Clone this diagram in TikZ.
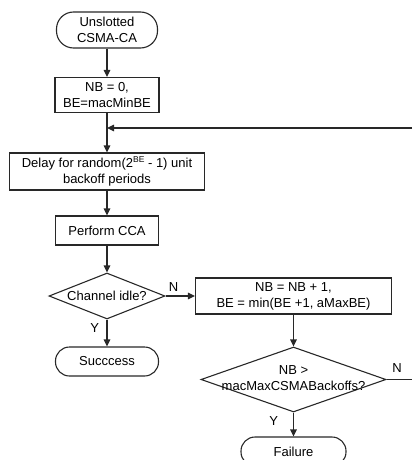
\documentclass[tikz,border=0pt]{standalone}
\usepackage{fontspec}
\setmainfont{Liberation Sans}
\usetikzlibrary{shapes.geometric,arrows.meta}
\definecolor{lc}{RGB}{40,40,40}
\begin{document}
\begin{tikzpicture}[x=1pt,y=-1pt,
  every node/.style={font=\fontsize{13}{16}\selectfont, text=black},
  ln/.style={draw=lc, line width=1.1pt},
  proc/.style={ln, rectangle, inner sep=0pt, align=center},
  term/.style={ln, rectangle, rounded corners=14pt, inner sep=0pt, align=center},
  dec/.style={ln, diamond, inner sep=0pt},
  arr/.style={ln, -{Triangle[length=7pt,width=6.5pt]}},
  lbl/.style={inner sep=0pt},
]
\useasboundingbox (0,0) rectangle (412,460);
\clip (0,0) rectangle (412,460);

\node[term, rounded corners=17pt, minimum width=101pt, minimum height=36pt] (start) at (107,30) {Unslotted\\CSMA-CA};
\node[proc, minimum width=104pt, minimum height=35pt] (init) at (107,95) {NB = 0,\\BE=macMinBE};
\node[proc, minimum width=195pt, minimum height=37pt] (delay) at (107,171.5) {Delay for random(2\raisebox{0.42em}{\fontsize{8.5}{8.5}\selectfont BE} - 1) unit\\backoff periods};
\node[proc, minimum width=103pt, minimum height=29pt] (cca) at (107,230.5) {Perform CCA};
\node[dec, minimum width=116pt, minimum height=46pt] (idle) at (107,296) {\makebox[0pt]{Channel idle?}};
\node[proc, minimum width=196pt, minimum height=36pt] (inc) at (293.5,296) {NB = NB + 1,\\BE = min(BE +1, aMaxBE)};
\node[term, minimum width=103pt, minimum height=29pt] (succ) at (107,361.5) {Succcess};
\node[dec, minimum width=185pt, minimum height=65pt] (max) at (293.5,379.5) {\raisebox{5pt}{\makebox[0pt]{\begin{tabular}{@{}c@{}}NB >\\macMaxCSMABackoffs?\end{tabular}}}};
\node[term, minimum width=105pt, minimum height=29pt] (fail) at (293.5,451.5) {Failure};

\coordinate (join) at (107,128);
\coordinate (loopin) at (412,128);
\coordinate (nout) at (412,379.5);

\draw[arr] (start) -- (init);
\draw[arr] (init) -- (delay);
\draw[arr] (loopin) -- (join);
\draw[arr] (delay) -- (cca);
\draw[arr] (cca) -- (idle);
\draw[arr] (idle) -- node[lbl, pos=0.27, above=4pt] {N} (inc);
\draw[arr] (idle) -- node[lbl, pos=0.3, left=7.5pt] {Y} (succ);
\draw[arr] (inc) -- (max);
\draw[ln] (max) -- node[lbl, pos=0.41, above=6pt] {N} (nout);
\draw[arr] (max) -- node[lbl, pos=0.36, left=15pt] {Y} (fail);
\end{tikzpicture}
\end{document}
